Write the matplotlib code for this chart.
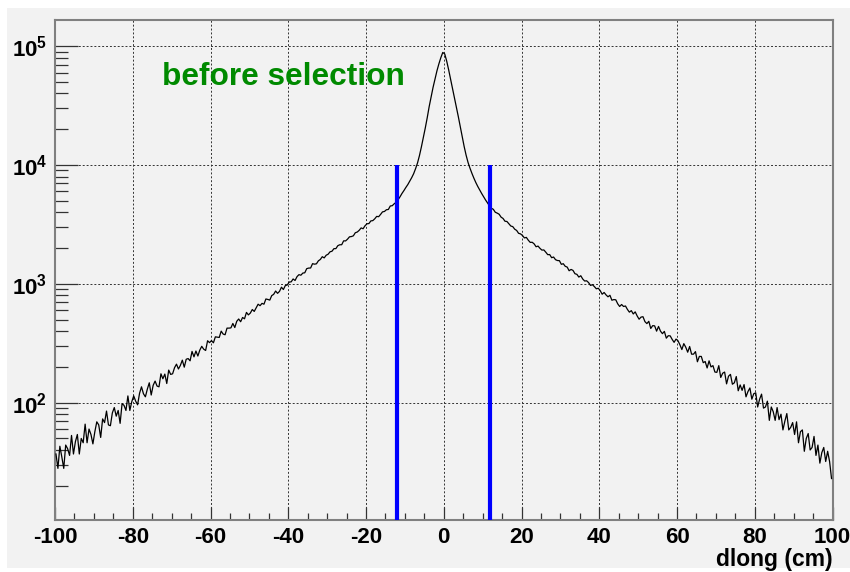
import numpy as np
import matplotlib
matplotlib.use("Agg")
import matplotlib.pyplot as plt
from matplotlib.patches import Rectangle
from matplotlib.ticker import MultipleLocator, LogLocator, FuncFormatter, NullFormatter

# histogram contents, 0.5 cm bins from -100 to 100 cm
left_tail = [
    37, 28, 43, 35, 28, 44, 41, 36, 53, 37, 47, 54, 37, 50, 46, 66, 46, 60, 54, 45,
    57, 69, 65, 51, 73, 68, 85, 65, 64, 82, 91, 77, 86, 67, 98, 95, 86, 114, 86, 102,
    114, 103, 96, 120, 136, 119, 112, 130, 147, 116, 140, 152, 138, 136, 175, 159, 174, 145, 188, 173,
    175, 197, 211, 192, 206, 228, 199, 232, 235, 225, 270, 243, 272, 247, 277, 298, 282, 275, 332, 320,
    333, 319, 358, 356, 354, 400, 378, 373, 424, 424, 426, 464, 429, 484, 506, 480, 521, 508, 575, 548,
    568, 608, 586, 628, 674, 655, 685, 674, 746, 739, 730, 796, 816, 870, 832, 864, 937, 896, 968, 978,
    1036, 1039, 1099, 1067, 1149, 1195, 1182, 1232, 1239, 1342, 1357, 1359, 1478, 1464, 1474, 1562, 1603, 1692, 1653, 1740,
    1775, 1860, 1881, 1977, 1979, 2094, 2132, 2134, 2301, 2297, 2377, 2486, 2500, 2536, 2692, 2729, 2821, 2955, 2908, 3081,
    3201, 3217, 3385, 3404, 3525, 3695, 3672, 3840, 4033, 4065, 4203, 4225, 4521, 4544, 4718, 4850,
]
core = [
    5100, 5400, 5760, 6090, 6470, 6840, 7310, 7820, 8440, 9310, 10400, 12000,
    14200, 17000, 20500, 25000, 31000, 37500, 45000, 53000, 62000, 71000, 80000, 88500,
    86000, 75000, 63500, 53000, 44000, 37000, 31000, 25500, 21000, 17300, 14300, 12100,
    10500, 9400, 8500, 7750, 7120, 6600, 6160, 5760, 5400, 5080, 4800, 4540,
]
right_tail = [
    4325, 4238, 4005, 3936, 3851, 3640, 3550, 3364, 3347, 3202, 3066, 3031, 2884, 2814, 2662, 2633,
    2552, 2434, 2459, 2328, 2232, 2238, 2169, 2052, 2078, 1990, 1923, 1929, 1846, 1760, 1764, 1660, 1681, 1597, 1571, 1567,
    1460, 1477, 1404, 1384, 1289, 1322, 1297, 1217, 1202, 1140, 1170, 1098, 1056, 1061, 1025, 970, 984, 948, 908, 918,
    876, 818, 846, 807, 778, 801, 728, 737, 734, 679, 645, 670, 645, 651, 609, 578, 595, 558, 581, 537,
    504, 525, 529, 481, 463, 484, 421, 445, 443, 400, 438, 400, 381, 398, 349, 366, 365, 341, 322, 343,
    332, 307, 280, 314, 293, 266, 297, 256, 256, 269, 221, 245, 245, 217, 222, 196, 225, 200, 205, 181,
    180, 205, 163, 177, 181, 144, 167, 173, 143, 147, 166, 126, 141, 127, 142, 112, 124, 133, 107, 119,
    121, 92, 107, 118, 90, 92, 103, 71, 92, 84, 71, 91, 72, 80, 59, 70, 81, 59, 62, 68,
    54, 69, 46, 57, 59, 39, 50, 55, 40, 42, 52, 36, 44, 31, 38, 42, 32, 39, 32, 23,
]
x_range = (-100, 100)
cuts = [-12, 12]      # selection window
cut_top = 1e4
y_range = (10.3, 1.66e5)

counts = left_tail + core + right_tail
edges = np.linspace(x_range[0], x_range[1], len(counts) + 1)
centers = 0.5 * (edges[:-1] + edges[1:])

plt.rcParams['font.family'] = ['Liberation Sans', 'DejaVu Sans']
plt.rcParams['font.weight'] = 'bold'
plt.rcParams['axes.unicode_minus'] = False
plt.rcParams['mathtext.fontset'] = 'custom'
plt.rcParams['mathtext.rm'] = 'Liberation Sans'
plt.rcParams['mathtext.bf'] = 'Liberation Sans:bold'

fig = plt.figure(figsize=(8.5, 5.72), dpi=100)
fig.patch.set_facecolor('white')
fig.patches.append(Rectangle((7 / 850, 4 / 572), 1, (572 - 12) / 572, transform=fig.transFigure,
                             facecolor='#f2f2f2', edgecolor='none', zorder=-10))

ax = fig.add_axes([55 / 850, 52 / 572, 777.5 / 850, 500 / 572])
ax.set_facecolor('#f2f2f2')

ax.plot(centers, counts, color='black', lw=0.9, zorder=3)
ax.vlines(cuts, y_range[0], cut_top, colors='#0000ff', lw=3, zorder=4)

ax.set_yscale('log')
ax.set_xlim(*x_range)
ax.set_ylim(*y_range)

ax.xaxis.set_major_locator(MultipleLocator(20))
ax.xaxis.set_minor_locator(MultipleLocator(5))
ax.yaxis.set_major_locator(LogLocator(base=10))
ax.yaxis.set_minor_locator(LogLocator(base=10, subs=np.arange(2, 10)))
ax.yaxis.set_minor_formatter(NullFormatter())
ax.yaxis.set_major_formatter(FuncFormatter(
    lambda v, p: r'$\mathbf{10}^{%d}$' % round(np.log10(v))))

ax.grid(True, which='major', color='#333333', lw=0.7, linestyle=(0, (2, 2)), zorder=1)

ax.tick_params(axis='x', which='major', direction='in', length=9.5, width=0.9,
               color='#333333', pad=5, labelsize=16)
ax.tick_params(axis='x', which='minor', direction='in', length=5, width=0.9, color='#333333')
ax.tick_params(axis='y', which='major', direction='in', length=16.5, width=0.9,
               color='#333333', pad=5.5, labelsize=16)
ax.tick_params(axis='y', which='minor', direction='in', length=9, width=0.9, color='#333333')

for s in ax.spines.values():
    s.set_color('#808080')
    s.set_linewidth(1.5)

ax.text(0.1376, 0.87, 'before selection', transform=ax.transAxes, color='#008a00',
        fontsize=22.8, fontweight='bold', va='baseline')
ax.text(1.0, -0.092, 'dlong (cm)', transform=ax.transAxes, ha='right', va='baseline',
        fontsize=16.5, fontweight='bold')

fig.savefig('out.png', dpi=100)
